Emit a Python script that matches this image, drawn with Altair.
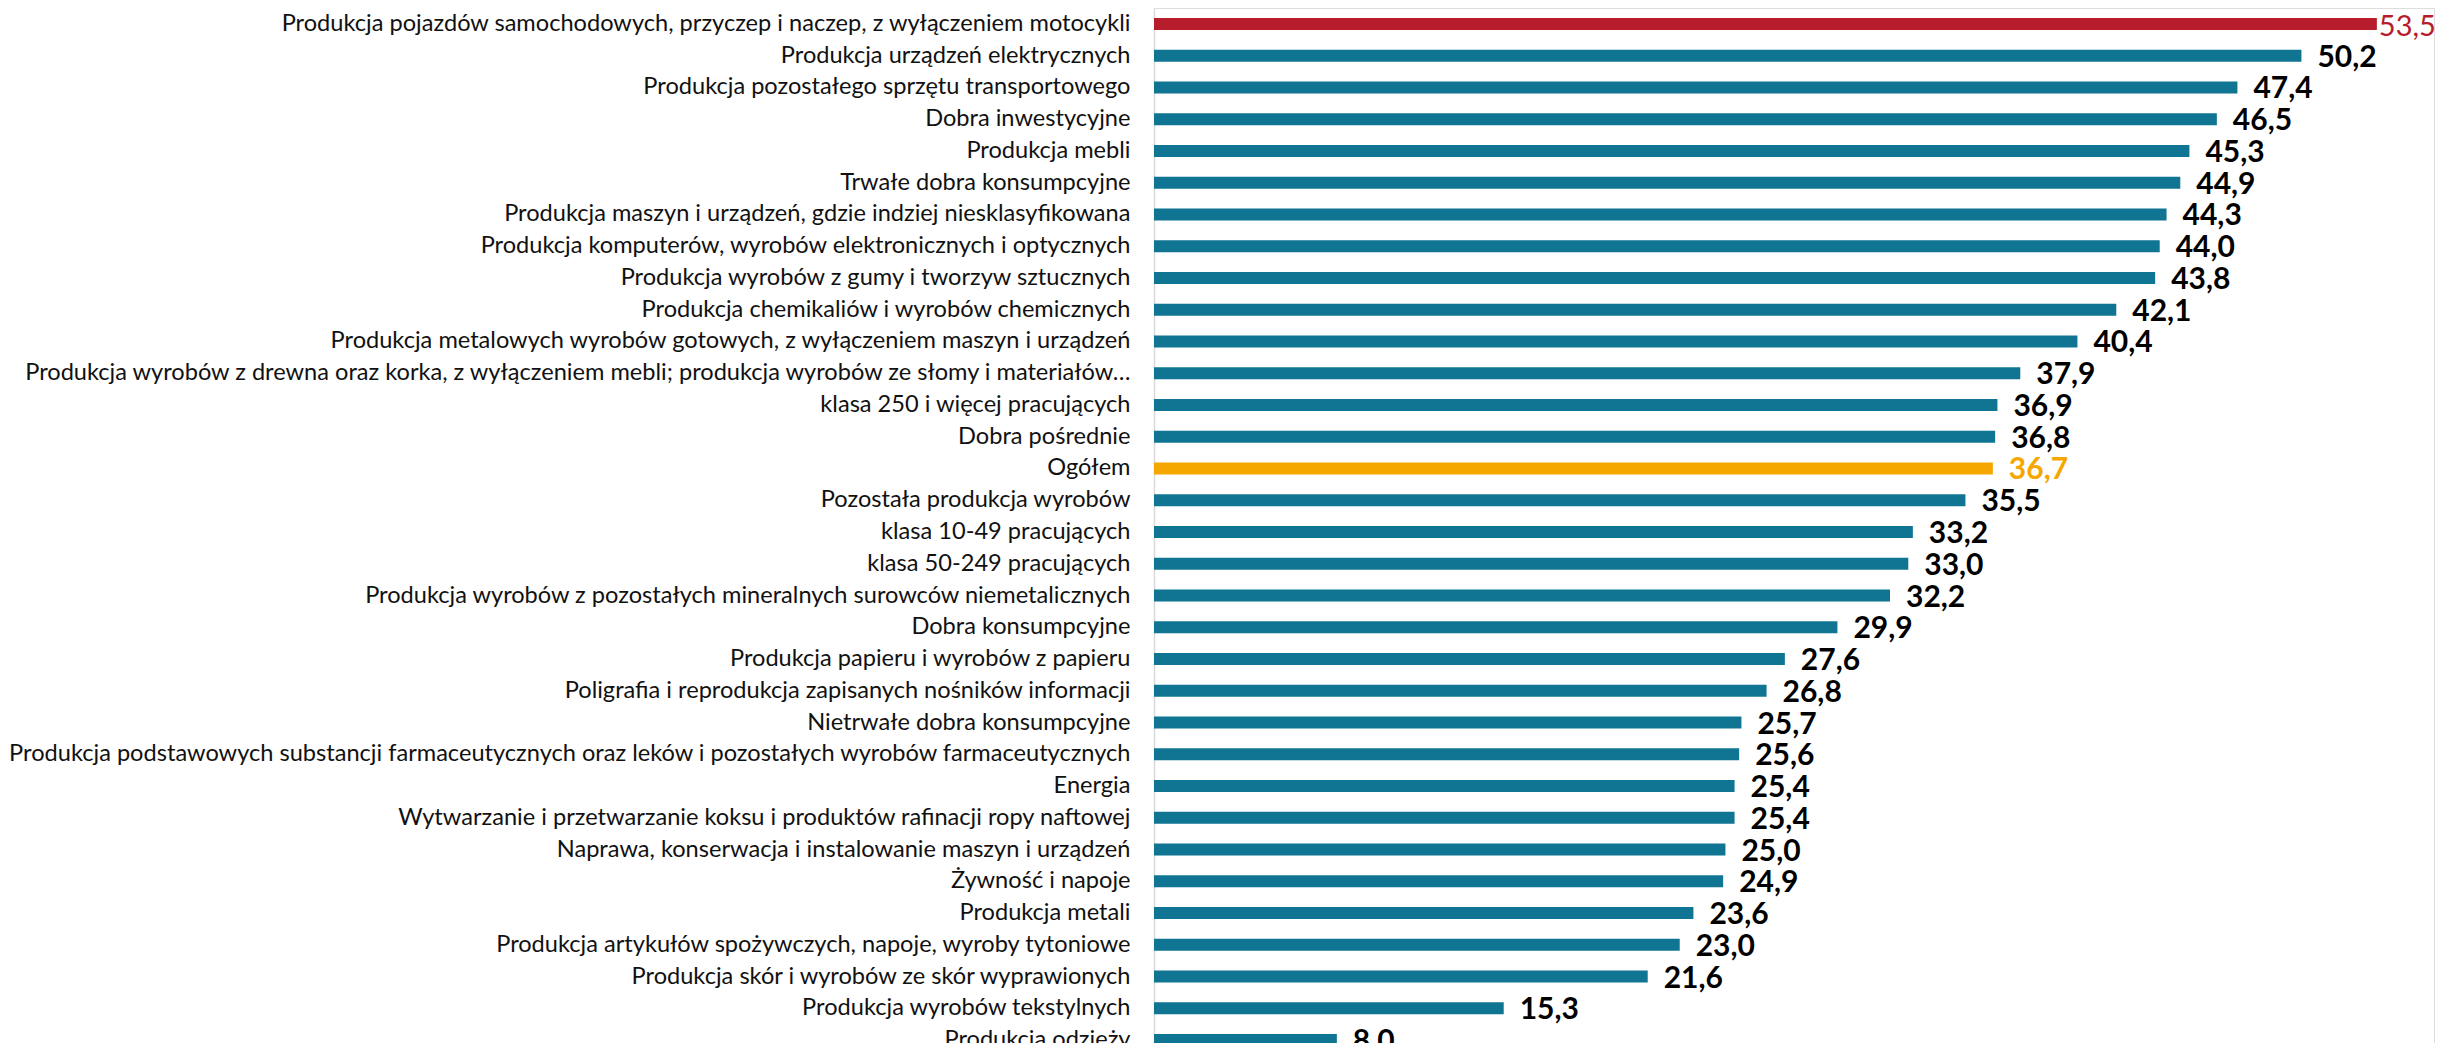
import altair as alt
import pandas as pd

categories = [
    "Produkcja pojazdów samochodowych, przyczep  i naczep, z wyłączeniem motocykli",
    "Produkcja urządzeń elektrycznych",
    "Produkcja pozostałego sprzętu transportowego",
    "Dobra inwestycyjne",
    "Produkcja mebli",
    "Trwałe dobra konsumpcyjne",
    "Produkcja maszyn i urządzeń, gdzie indziej niesklasyfikowana ",
    "Produkcja komputerów, wyrobów elektronicznych i optycznych",
    "Produkcja wyrobów z gumy i tworzyw sztucznych",
    "Produkcja chemikaliów i wyrobów chemicznych",
    "Produkcja metalowych wyrobów gotowych, z wyłączeniem maszyn i urządzeń",
    "Produkcja wyrobów z drewna oraz korka, z wyłączeniem mebli; produkcja wyrobów ze słomy i materiałów…",
    "klasa 250 i więcej pracujących",
    "Dobra pośrednie",
    "Ogółem",
    "Pozostała produkcja wyrobów",
    "klasa 10-49 pracujących",
    "klasa 50-249 pracujących",
    "Produkcja wyrobów z pozostałych mineralnych surowców niemetalicznych",
    "Dobra konsumpcyjne",
    "Produkcja papieru i wyrobów z papieru ",
    "Poligrafia i reprodukcja zapisanych nośników informacji ",
    "Nietrwałe dobra konsumpcyjne",
    "Produkcja podstawowych substancji farmaceutycznych oraz leków i pozostałych wyrobów farmaceutycznych ",
    "Energia",
    "Wytwarzanie i przetwarzanie koksu i produktów rafinacji ropy naftowej",
    "Naprawa, konserwacja i instalowanie maszyn i urządzeń ",
    "Żywność i napoje",
    "Produkcja metali",
    "Produkcja artykułów spożywczych, napoje, wyroby tytoniowe ",
    "Produkcja skór i wyrobów ze skór wyprawionych ",
    "Produkcja wyrobów tekstylnych",
    "Produkcja odzieży",
]

values = [53.5, 50.2, 47.4, 46.5, 45.3, 44.9, 44.3, 44.0, 43.8, 42.1, 40.4, 37.9,
          36.9, 36.8, 36.7, 35.5, 33.2, 33.0, 32.2, 29.9, 27.6, 26.8, 25.7, 25.6,
          25.4, 25.4, 25.0, 24.9, 23.6, 23.0, 21.6, 15.3, 8.0]

groups = ["max"] + ["other"] * 13 + ["total"] + ["other"] * 18

df = pd.DataFrame({
    "kategoria": categories,
    "wartosc": values,
    "grupa": groups,
})
df["etykieta"] = df["wartosc"].map(lambda v: f"{v:.1f}".replace(".", ","))

bar_colors = alt.Scale(domain=["max", "other", "total"],
                       range=["#B71C2C", "#0F7592", "#F5A700"])

y_enc = alt.Y(
    "kategoria:N",
    sort=categories,
    scale=alt.Scale(range=[0, 1048], paddingInner=0, paddingOuter=0),
    axis=alt.Axis(
        title=None, ticks=False, grid=False,
        labelFont="Lato", labelFontSize=23.6, labelColor="#111111",
        labelPadding=24, labelLimit=2000,
        domainColor="#D9D9D9", domainWidth=1.5,
    ),
)
x_enc = alt.X("wartosc:Q", scale=alt.Scale(domain=[0, 56]), axis=None)

base = alt.Chart(df)

bars = base.mark_bar(size=12).encode(
    y=y_enc, x=x_enc,
    color=alt.Color("grupa:N", scale=bar_colors, legend=None),
)

text_style = dict(align="left", baseline="middle", font="Lato")

labels_other = base.transform_filter(alt.datum.grupa == "other").mark_text(
    dx=16, dy=2, fontSize=30, fontWeight="bold", color="#000000", **text_style
).encode(y=y_enc, x=x_enc, text="etykieta:N")

labels_total = base.transform_filter(alt.datum.grupa == "total").mark_text(
    dx=16, dy=2, fontSize=30, fontWeight="bold", color="#F5A700", **text_style
).encode(y=y_enc, x=x_enc, text="etykieta:N")

labels_max = base.transform_filter(alt.datum.grupa == "max").mark_text(
    dx=2, dy=3, fontSize=29, fontWeight="normal", color="#B71C2C", **text_style
).encode(y=y_enc, x=x_enc, text="etykieta:N")

chart = alt.layer(bars, labels_other, labels_total, labels_max).properties(
    width=1280, height=1035,
    autosize=alt.AutoSizeParams(type="none"),
    padding={"left": 1146, "top": 0, "right": 9, "bottom": 0},
).configure_view(stroke=None).configure(background="white")

chart.save("out.html", embed_options={"renderer": "svg", "actions": False})
